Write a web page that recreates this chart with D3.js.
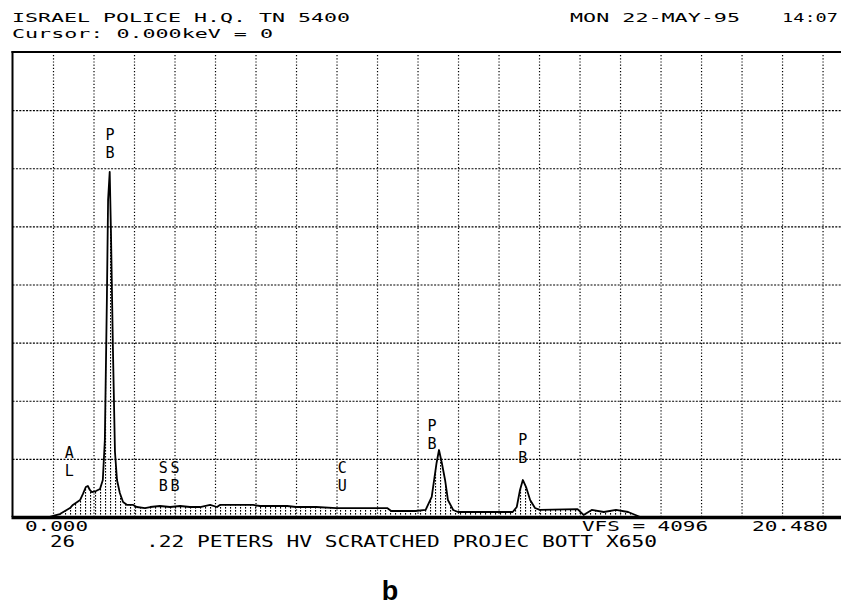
<!DOCTYPE html>
<html>
<head>
<meta charset="utf-8">
<script src="https://cdn.jsdelivr.net/npm/d3@7"></script>
<style>
  body { margin: 0; background: #fff; }
  svg { display: block; }
</style>
</head>
<body>
<script>
// EDS spectrum, counts (VFS = 4096, 20.48 keV full width)
const keV = [0, 0.90, 1.05, 1.17, 1.42, 1.49, 1.67, 1.74, 1.81, 1.86, 1.91, 1.96, 2.06, 2.16, 2.23,
  2.28, 2.33, 2.36, 2.40, 2.43, 2.48, 2.53, 2.58, 2.65, 2.73, 2.83, 2.98, 3.07, 3.27, 3.40,
  3.64, 3.89, 4.14, 4.38, 4.63, 4.88, 5.05, 5.12, 5.49, 5.94, 6.11, 6.78, 7.00, 7.50, 8.00,
  8.50, 9.25, 9.35, 9.95, 10.20, 10.35, 10.47, 10.53, 10.60, 10.68, 10.75, 10.88, 11.00, 12.35,
  12.45, 12.53, 12.60, 12.68, 12.78, 12.90, 13.02, 13.95, 14.10, 14.30, 14.60, 14.90, 15.20, 15.50, 20.48];
const counts = [0, 0, 14, 26, 79, 106, 150, 203, 264, 273, 238, 220, 229, 247, 326,
  678, 1912, 2793, 3040, 2528, 1471, 573, 326, 211, 132, 106, 106, 88, 79, 88,
  97, 88, 97, 88, 88, 106, 88, 106, 106, 106, 97, 97, 88, 88, 79,
  79, 79, 53, 53, 62, 177, 476, 590, 476, 326, 150, 62, 44, 44,
  88, 238, 326, 264, 150, 79, 62, 70, 18, 62, 44, 62, 44, 0, 0];

// peak markers: stacked letters, position in keV, top of label in counts
const markText = ['AL', 'PB', 'SB', 'SB', 'CU', 'PB', 'PB'];
const markKeV = [1.40, 2.41, 3.72, 4.01, 8.14, 10.36, 12.60];
const markTop = [634, 3436, 502, 502, 502, 872, 749];

const xTicks = [1, 2, 3, 4, 5, 6, 7, 8, 9, 10, 11, 12, 13, 14, 15, 16, 17, 18, 19, 20];
const yTicks = [512, 1024, 1536, 2048, 2560, 3072, 3584];

const headLeft = ['ISRAEL POLICE H.Q. TN 5400', 'Cursor: 0.000keV = 0'];
const headDate = 'MON 22-MAY-95';
const headTime = '14:07';
const xStart = '0.000', xEnd = '20.480', vfs = 'VFS = 4096';
const sampleNo = '26';
const sampleText = '.22 PETERS HV SCRATCHED PROJEC BOTT X650';

const W = 841, H = 608;
const mono = 'DejaVu Sans Mono, monospace';

const svg = d3.select('body').append('svg')
  .attr('width', W)
  .attr('height', H);

const x = d3.scaleLinear().domain([0, 20.48]).range([12.5, 842]);
const y = d3.scaleLinear().domain([0, 4096]).range([517, 52]);

// dotted grid
svg.append('g')
  .attr('transform', `translate(0,${y(0)})`)
  .call(d3.axisBottom(x).tickValues(xTicks).tickSize(-(y(0) - y(4096))).tickFormat(''))
  .call(g => g.select('.domain').remove())
  .selectAll('line')
  .attr('stroke', '#000')
  .attr('stroke-width', 1.2)
  .attr('stroke-dasharray', '1.2,2');

svg.append('g')
  .attr('transform', `translate(${x(0)},0)`)
  .call(d3.axisLeft(y).tickValues(yTicks).tickSize(-(W - x(0))).tickFormat(''))
  .call(g => g.select('.domain').remove())
  .selectAll('line')
  .attr('stroke', '#000')
  .attr('stroke-width', 1.2)
  .attr('stroke-dasharray', '2,1.4');

// hatched fill under the spectrum
const pat = svg.append('defs').append('pattern')
  .attr('id', 'hatch')
  .attr('patternUnits', 'userSpaceOnUse')
  .attr('width', 5)
  .attr('height', 3);
pat.append('rect')
  .attr('width', 1.1)
  .attr('height', 1.6)
  .attr('fill', '#000');

const area = d3.area()
  .x((d, i) => x(keV[i]))
  .y0(y(0))
  .y1(d => y(d));

svg.append('path')
  .datum(counts)
  .attr('d', area)
  .attr('fill', 'url(#hatch)');

const line = d3.line()
  .x((d, i) => x(keV[i]))
  .y(d => y(d));

svg.append('path')
  .datum(counts)
  .attr('d', line)
  .attr('fill', 'none')
  .attr('stroke', '#000')
  .attr('stroke-width', 1.8)
  .attr('stroke-linejoin', 'round');

// frame
svg.append('line')
  .attr('x1', x(0)).attr('x2', x(0))
  .attr('y1', y(4096) - 1).attr('y2', y(0))
  .attr('stroke', '#000').attr('stroke-width', 2);
svg.append('line')
  .attr('x1', x(0) - 1).attr('x2', W)
  .attr('y1', y(4096)).attr('y2', y(4096))
  .attr('stroke', '#000').attr('stroke-width', 2);
svg.append('line')
  .attr('x1', x(0) - 1).attr('x2', W)
  .attr('y1', y(0) + 0.5).attr('y2', y(0) + 0.5)
  .attr('stroke', '#000').attr('stroke-width', 3.5);

// peak labels, letters stacked top to bottom
svg.selectAll('.mark')
  .data(markText)
  .enter()
  .append('text')
  .attr('class', 'mark')
  .attr('x', (d, i) => x(markKeV[i]))
  .attr('y', (d, i) => y(markTop[i]) - 1)
  .style('writing-mode', 'vertical-lr')
  .style('text-orientation', 'upright')
  .attr('font-family', mono)
  .attr('font-size', 15)
  .text(d => d);

// header and footer text
function txt(s, tx, ty, len, size) {
  return svg.append('text')
    .attr('x', tx)
    .attr('y', ty)
    .attr('font-family', mono)
    .attr('font-size', size)
    .attr('textLength', len)
    .attr('lengthAdjust', 'spacingAndGlyphs')
    .text(s);
}

txt(headLeft[0], 12, 22, 338, 13);
txt(headLeft[1], 12, 37.5, 261, 13);
txt(headDate, 570, 22, 170, 13);
txt(headTime, 782, 22, 56, 13);

const start = svg.append('text')
  .attr('font-family', mono);
start.append('tspan')
  .attr('x', 25).attr('y', 531).attr('font-size', 14)
  .attr('textLength', 63).attr('lengthAdjust', 'spacingAndGlyphs')
  .text(xStart);
start.append('tspan')
  .attr('x', 50).attr('y', 547).attr('font-size', 15)
  .attr('textLength', 25).attr('lengthAdjust', 'spacingAndGlyphs')
  .text(sampleNo);

txt(vfs, 582, 531, 126, 14);
txt(xEnd, 752, 531, 76, 14);
txt(sampleText, 146, 547, 511, 15);

svg.append('text')
  .attr('x', 390)
  .attr('y', 600)
  .attr('text-anchor', 'middle')
  .attr('font-family', 'Liberation Sans, Arial, sans-serif')
  .attr('font-weight', 'bold')
  .attr('font-size', 27)
  .text('b');
</script>
</body>
</html>
